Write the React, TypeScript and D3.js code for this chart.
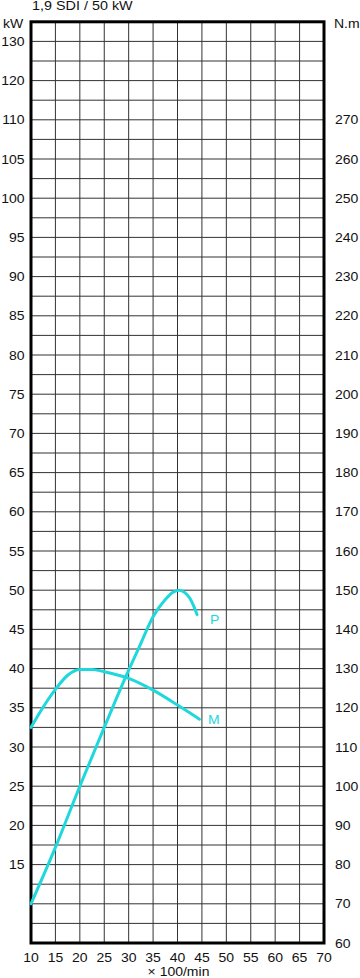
import React from "react";
import * as d3 from "d3";

const title = "1,9 SDI / 50 kW";
const leftUnit = "kW";
const rightUnit = "N.m";
const xUnit = "× 100/min";

const rpmTicks = [10, 15, 20, 25, 30, 35, 40, 45, 50, 55, 60, 65, 70];
const kwTickValues = [15, 20, 25, 30, 35, 40, 45, 50, 55, 60, 65, 70, 75, 80, 85, 90, 95, 100, 105, 110, 115, 120];
const kwTickLabels = ["15", "20", "25", "30", "35", "40", "45", "50", "55", "60", "65", "70", "75", "80", "85", "90", "95", "100", "105", "110", "120", "130"];
const nmTicks = [60, 70, 80, 90, 100, 110, 120, 130, 140, 150, 160, 170, 180, 190, 200, 210, 220, 230, 240, 250, 260, 270];

const powerRpm = [10, 15, 20, 25, 30, 32.2, 35, 37.5, 39, 40.3, 41.5, 42.5, 43.3, 44];
const powerKw = [10, 17.2, 25, 32.5, 39.8, 42.8, 46.6, 48.8, 49.7, 50, 49.7, 49, 48, 46.9];

const torqueRpm = [10, 12, 15, 17.5, 20, 22.5, 25, 30, 35, 40, 44.5];
const torqueNm = [115, 119.2, 124.7, 128.3, 129.8, 129.8, 129.2, 127.5, 124.5, 120.7, 117.1];

const W = 360;
const H = 978;
const L = 31, R = 324, T = 21.8, B = 943;
const FONT = "'Liberation Sans', Arial, sans-serif";
const CYAN = "#1ED8DC";
const FS = 12.5;
const SX = 1.12;

function Label(props: { x: number; y: number; anchor?: string; dy?: string; fill?: string; children: React.ReactNode; sx?: number }) {
  const { x, y, anchor = "start", dy, fill = "#111", children, sx = SX } = props;
  return (
    <g transform={`translate(${x},${y}) scale(${sx},1)`}>
      <text x={0} y={0} dy={dy} textAnchor={anchor} fontSize={FS} fill={fill}>
        {children}
      </text>
    </g>
  );
}

export default function App() {
  const x = d3.scaleLinear().domain([10, 70]).range([L, R]);
  const yNm = d3.scaleLinear().domain([60, 295]).range([B, T]);
  // kW axis: Nm = 2*kW + 50
  const yKw = d3.scaleLinear().domain([5, 122.5]).range([B, T]);

  const gridX = d3.range(10, 70.01, 5);
  const gridY = d3.range(60, 295.01, 5);

  const pLine = d3.line<number>()
    .x((_, i) => x(powerRpm[i]))
    .y((d) => yKw(d))
    .curve(d3.curveMonotoneX);
  const mLine = d3.line<number>()
    .x((_, i) => x(torqueRpm[i]))
    .y((d) => yNm(d))
    .curve(d3.curveMonotoneX);

  const pEnd = powerRpm.length - 1;
  const mEnd = torqueRpm.length - 1;

  return (
    <svg width={W} height={H} style={{ position: "absolute", left: 0, top: 0, background: "#fff" }} fontFamily={FONT}>
      <rect x={0} y={0} width={W} height={H} fill="#fff" />
      <Label x={32} y={10} sx={1.15}>{title}</Label>
      <Label x={3} y={28.3}>{leftUnit}</Label>
      <Label x={334} y={28.3}>{rightUnit}</Label>
      <g stroke="#333" strokeWidth={1}>
        {gridX.map((v) => (
          <line key={"gx" + v} x1={x(v)} x2={x(v)} y1={T} y2={B} />
        ))}
        {gridY.map((v) => (
          <line key={"gy" + v} x1={L} x2={R} y1={yNm(v)} y2={yNm(v)} />
        ))}
      </g>
      <rect x={L} y={T} width={R - L} height={B - T} fill="none" stroke="#000" strokeWidth={3} />
      {kwTickValues.map((v, i) => (
        <Label key={"kw" + v} x={24.5} y={yKw(v)} dy="0.36em" anchor="end">
          {kwTickLabels[i]}
        </Label>
      ))}
      {nmTicks.map((v) => (
        <Label key={"nm" + v} x={335} y={yNm(v)} dy="0.36em">
          {v}
        </Label>
      ))}
      {rpmTicks.map((v) => (
        <Label key={"r" + v} x={x(v)} y={962.3} anchor="middle">
          {v}
        </Label>
      ))}
      <Label x={(L + R) / 2 + 1} y={975.5} anchor="middle">{xUnit}</Label>
      <path d={mLine(torqueNm) || ""} fill="none" stroke={CYAN} strokeWidth={3} strokeLinecap="round" />
      <path d={pLine(powerKw) || ""} fill="none" stroke={CYAN} strokeWidth={3} strokeLinecap="round" />
      <Label x={x(powerRpm[pEnd]) + 13} y={yKw(powerKw[pEnd]) + 9} fill={CYAN}>P</Label>
      <Label x={x(torqueRpm[mEnd]) + 8.5} y={yNm(torqueNm[mEnd]) + 4.5} fill={CYAN}>M</Label>
    </svg>
  );
}
